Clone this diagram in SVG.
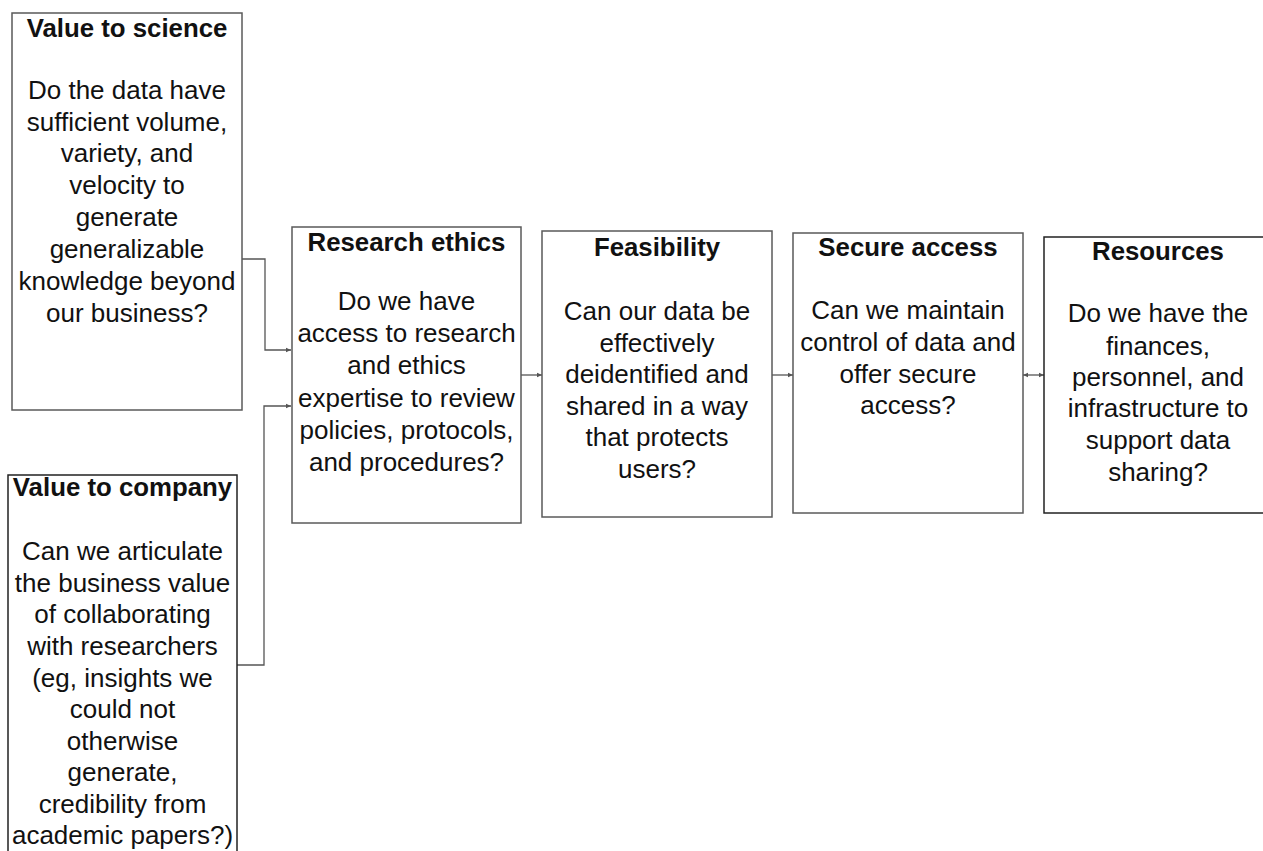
<svg xmlns="http://www.w3.org/2000/svg" width="1263" height="851" viewBox="0 0 1263 851">
<style>
.box{fill:#fff;stroke:#5a5a5a;stroke-width:1.5}
.dark{stroke:#222}
.t{font-family:"Liberation Sans",Arial,sans-serif;font-weight:bold;font-size:25.8px;fill:#111;text-anchor:middle}
.b{font-family:"Liberation Sans",Arial,sans-serif;font-size:26px;fill:#111;text-anchor:middle}
.c{fill:none;stroke:#555;stroke-width:1.3}
</style>
<defs>
<marker id="ah" markerWidth="6" markerHeight="6" refX="5" refY="3" orient="auto" markerUnits="userSpaceOnUse">
<path d="M0,0.8 L5,3 L0,5.2 Z" fill="#555"/>
</marker>
<marker id="ahs" markerWidth="6" markerHeight="6" refX="0" refY="3" orient="auto" markerUnits="userSpaceOnUse">
<path d="M5,0.8 L0,3 L5,5.2 Z" fill="#555"/>
</marker>
</defs>
<rect width="1263" height="851" fill="#fff"/>
<g id="connectors">
<path class="c" d="M242,259 H265 V350 H291" marker-end="url(#ah)"/>
<path class="c" d="M237,665 H264 V406 H291" marker-end="url(#ah)"/>
<path class="c" d="M521,375 H542" marker-end="url(#ah)"/>
<path class="c" d="M772,375 H793" marker-end="url(#ah)"/>
<path class="c" d="M1023,375 H1044" marker-start="url(#ahs)" marker-end="url(#ah)"/>
</g>
<g id="value-science">
<rect class="box" x="12" y="13" width="230" height="397"/>
<text class="t" x="127" y="37">Value to science</text>
<text class="b" x="127"><tspan x="127" y="99">Do the data have</tspan><tspan x="127" y="131">sufficient volume,</tspan><tspan x="127" y="162">variety, and</tspan><tspan x="127" y="194">velocity to</tspan><tspan x="127" y="226">generate</tspan><tspan x="127" y="258">generalizable</tspan><tspan x="127" y="290">knowledge beyond</tspan><tspan x="127" y="322">our business?</tspan></text>
</g>
<g id="value-company">
<rect class="box dark" x="8" y="475" width="229" height="400"/>
<text class="t" x="122.5" y="496">Value to company</text>
<text class="b"><tspan x="122.5" y="560">Can we articulate</tspan><tspan x="122.5" y="592">the business value</tspan><tspan x="122.5" y="623">of collaborating</tspan><tspan x="122.5" y="655">with researchers</tspan><tspan x="122.5" y="687">(eg, insights we</tspan><tspan x="122.5" y="718">could not</tspan><tspan x="122.5" y="750">otherwise</tspan><tspan x="122.5" y="781">generate,</tspan><tspan x="122.5" y="813">credibility from</tspan><tspan x="122.5" y="844">academic papers?)</tspan></text>
</g>
<g id="research-ethics">
<rect class="box" x="292" y="227" width="229" height="296"/>
<text class="t" x="406.5" y="251">Research ethics</text>
<text class="b"><tspan x="406.5" y="310">Do we have</tspan><tspan x="406.5" y="342">access to research</tspan><tspan x="406.5" y="374">and ethics</tspan><tspan x="406.5" y="407">expertise to review</tspan><tspan x="406.5" y="439">policies, protocols,</tspan><tspan x="406.5" y="471">and procedures?</tspan></text>
</g>
<g id="feasibility">
<rect class="box" x="542" y="231" width="230" height="286"/>
<text class="t" x="657" y="256">Feasibility</text>
<text class="b"><tspan x="657" y="320">Can our data be</tspan><tspan x="657" y="352">effectively</tspan><tspan x="657" y="383">deidentified and</tspan><tspan x="657" y="415">shared in a way</tspan><tspan x="657" y="446">that protects</tspan><tspan x="657" y="478">users?</tspan></text>
</g>
<g id="secure-access">
<rect class="box" x="793" y="233" width="230" height="280"/>
<text class="t" x="908" y="256">Secure access</text>
<text class="b"><tspan x="908" y="319">Can we maintain</tspan><tspan x="908" y="351">control of data and</tspan><tspan x="908" y="383">offer secure</tspan><tspan x="908" y="414">access?</tspan></text>
</g>
<g id="resources">
<rect class="box dark" x="1044" y="237" width="230" height="276"/>
<text class="t" x="1158" y="260">Resources</text>
<text class="b"><tspan x="1158" y="322">Do we have the</tspan><tspan x="1158" y="355">finances,</tspan><tspan x="1158" y="386">personnel, and</tspan><tspan x="1158" y="417">infrastructure to</tspan><tspan x="1158" y="449">support data</tspan><tspan x="1158" y="481">sharing?</tspan></text>
</g>
</svg>
